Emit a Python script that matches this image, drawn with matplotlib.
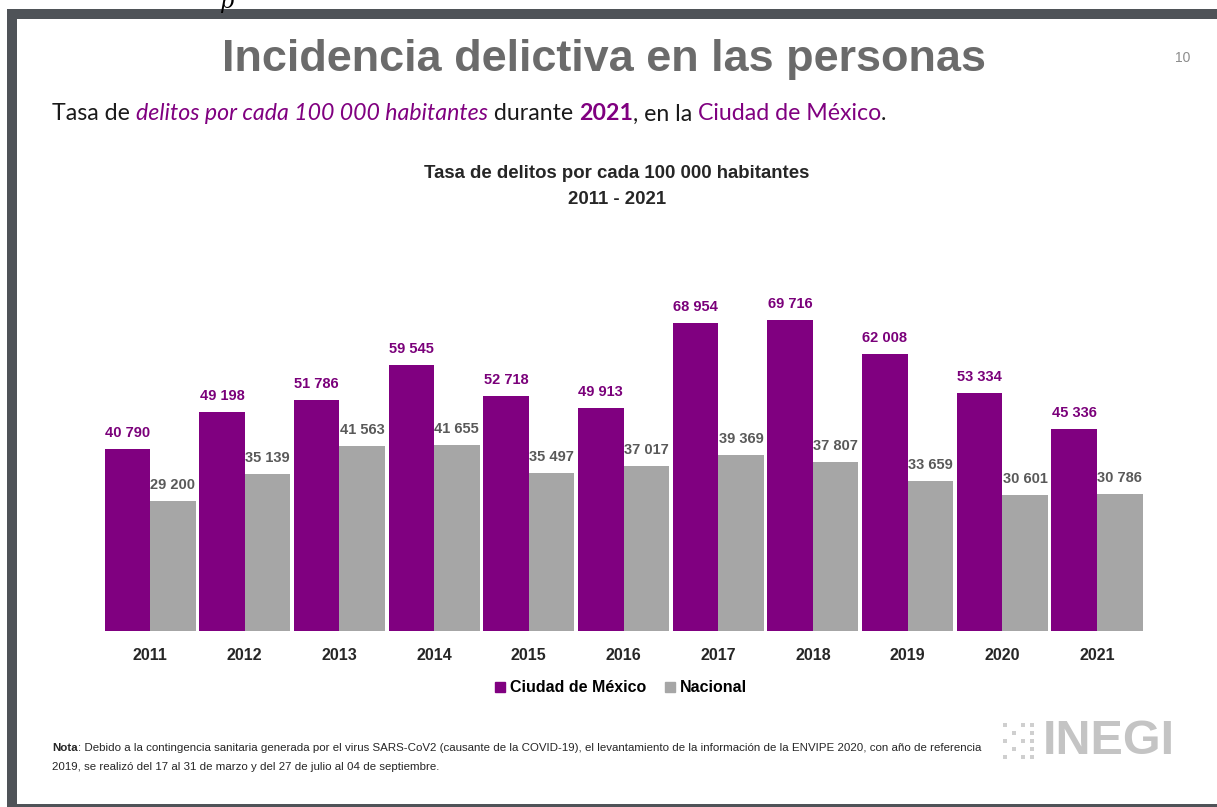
import matplotlib
matplotlib.use("Agg")
import matplotlib.pyplot as plt
from matplotlib.patches import Rectangle, Patch
import numpy as np

years = ["2011", "2012", "2013", "2014", "2015", "2016", "2017", "2018", "2019", "2020", "2021"]
cdmx = [40790, 49198, 51786, 59545, 52718, 49913, 68954, 69716, 62008, 53334, 45336]
nacional = [29200, 35139, 41563, 41655, 35497, 37017, 39369, 37807, 33659, 30601, 30786]
series_names = ["Ciudad de México", "Nacional"]

PURPLE = "#800080"
GRAY = "#A6A6A6"
W, H = 1217, 807

fig = plt.figure(figsize=(W / 100, H / 100), dpi=100)
fig.patch.set_facecolor("white")
renderer = fig.canvas.get_renderer()


def px(x, y):
    return x / W, 1 - y / H


def measure(s, **kw):
    t = fig.text(0, 0, "|" + s + "|", **kw)
    w1 = t.get_window_extent(renderer).width
    t.remove()
    t = fig.text(0, 0, "||", **kw)
    w2 = t.get_window_extent(renderer).width
    t.remove()
    return w1 - w2


def runs_line(x0, y, runs, target_w, base_size, common):
    total = sum(measure(s, fontsize=base_size, **common, **p) for s, p in runs)
    size = base_size * target_w / total
    x = x0
    for s, p in runs:
        kw = dict(common)
        kw.update(p)
        fig.text(x / W, 1 - y / H, s, fontsize=size, va="center", ha="left", **kw)
        x += measure(s, fontsize=size, **kw)
    return size


# Frame of the slide
frame_col = "#4f5358"
fig.patches.append(Rectangle(px(7, 19), (W - 7) / W, 10 / H, transform=fig.transFigure,
                             facecolor=frame_col, edgecolor="none", zorder=0))
fig.patches.append(Rectangle(px(7, 807), 10 / W, (807 - 19) / H, transform=fig.transFigure,
                             facecolor=frame_col, edgecolor="none", zorder=0))
fig.patches.append(Rectangle(px(7, 807), (W - 7) / W, 3 / H, transform=fig.transFigure,
                             facecolor=frame_col, edgecolor="none", zorder=0))
fig.text(*px(226, 2), "p", fontsize=16, family="DejaVu Serif", style="italic",
         color="black", ha="center", va="center")

# Main title
runs_line(222, 59, [("Incidencia delictiva en las personas", {})], 763, 40,
          dict(family="Liberation Sans", weight="bold", color="#6b6b6b"))
fig.text(*px(1183, 58), "10", fontsize=10, color="#8c8c8c", family="Liberation Sans",
         ha="center", va="center")

# Subtitle
sub_common = dict(family="Lato")
runs_line(52, 114, [
    ("Tasa de ", dict(color="#1a1a1a")),
    ("delitos por cada 100 000 habitantes", dict(color=PURPLE, style="italic")),
    (" durante ", dict(color="#1a1a1a")),
    ("2021", dict(color=PURPLE, weight="bold")),
    (", en la ", dict(color="#1a1a1a")),
    ("Ciudad de México", dict(color=PURPLE)),
    (".", dict(color="#1a1a1a")),
], 836, 16, sub_common)

# Chart title
fig.text(*px(617, 174), "Tasa de delitos por cada 100 000 habitantes", fontsize=13.4,
         weight="bold", family="Liberation Sans", color="#262626", ha="center", va="center")
fig.text(*px(617, 200), "2011 - 2021", fontsize=13.4,
         weight="bold", family="Liberation Sans", color="#262626", ha="center", va="center")

# Axes
unit = 94.7
xmin, xmax = -0.6, 10.6
left_px = 150 + xmin * unit
ymax = 75000
scale = 0.00446
ax_h = ymax * scale
ax = fig.add_axes([left_px / W, (H - 631) / H, (xmax - xmin) * unit / W, ax_h / H])
x = np.arange(len(years))
bw = 45.5 / unit
b1 = ax.bar(x - bw / 2, cdmx, width=bw, color=PURPLE, label=series_names[0])
b2 = ax.bar(x + bw / 2, nacional, width=bw, color=GRAY, label=series_names[1])
ax.set_xlim(xmin, xmax)
ax.set_ylim(0, ymax)
for s in ax.spines.values():
    s.set_visible(False)
ax.set_yticks([])
ax.set_xticks(x)
ax.set_xticklabels(years, fontsize=11.5, weight="bold", family="Liberation Sans", color="#262626")
ax.tick_params(axis="x", length=0, pad=12)


def fmt(v):
    return f"{v:,}".replace(",", " ")


for rect, v in zip(b1, cdmx):
    ax.annotate(fmt(v), (rect.get_x() + rect.get_width() / 2, v), xytext=(0, 11.5),
                textcoords="offset points", ha="center", va="center", fontsize=10.5,
                weight="bold", family="Liberation Sans", color="#7a007a")
for rect, v in zip(b2, nacional):
    ax.annotate(fmt(v), (rect.get_x() + rect.get_width() / 2, v), xytext=(0, 11.5),
                textcoords="offset points", ha="center", va="center", fontsize=10.5,
                weight="bold", family="Liberation Sans", color="#595959")

handles = [Patch(color=PURPLE, label=series_names[0]), Patch(color=GRAY, label=series_names[1])]
fig.legend(handles=handles, loc="center", bbox_to_anchor=px(621, 688), ncol=2, frameon=False,
           handlelength=0.6, handleheight=0.6, handletextpad=0.3, columnspacing=1.2,
           prop=dict(family="Liberation Sans", weight="bold", size=11.5))

# Note
note_common = dict(family=["Liberation Sans Narrow", "Liberation Sans"], color="#262626")
ns = runs_line(52, 748, [
    ("Nota", dict(weight="bold")),
    (": Debido a la contingencia sanitaria generada por el virus SARS-CoV2 (causante de la COVID-19), "
     "el levantamiento de la información de la ENVIPE 2020, con año de referencia", {}),
], 933, 8, note_common)
fig.text(*px(52, 767), "2019, se realizó del 17 al 31 de marzo y del 27 de julio al 04 de septiembre.",
         fontsize=ns, va="center", ha="left", **note_common)

# INEGI logo
runs_line(1043, 741, [("INEGI", {})], 132, 30,
          dict(family="Liberation Sans", weight="bold", color="#c4c4c4"))
gx, gy = np.meshgrid(np.arange(4), np.arange(5))
for cx, cy in zip(gx.ravel(), gy.ravel()):
    if (cx + cy) % 2 == 0 or cx == 3:
        fig.patches.append(Rectangle(px(1003 + cx * 9, 727 + cy * 8), 4 / W, 4 / H,
                                     transform=fig.transFigure, facecolor="#cfcfcf",
                                     edgecolor="none"))

fig.savefig("out.png", dpi=100, facecolor="white")
